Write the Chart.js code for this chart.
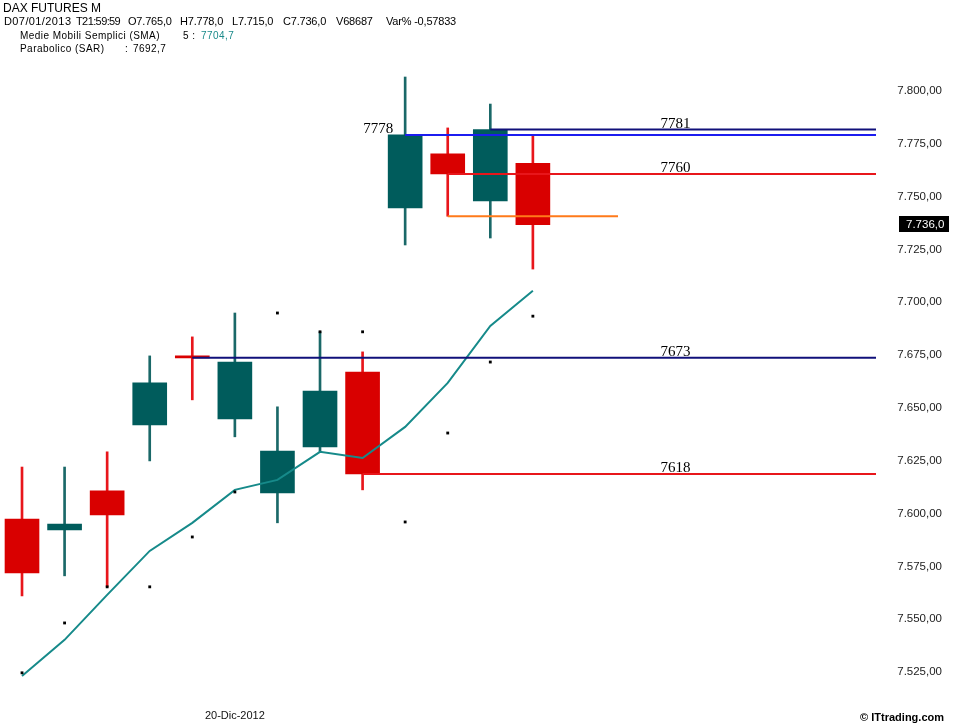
<!DOCTYPE html>
<html>
<head>
<meta charset="utf-8">
<script src="https://cdn.jsdelivr.net/npm/chart.js@4.4.1/dist/chart.umd.min.js"></script>
<style>
  html, body { margin: 0; padding: 0; background: #fff; }
  #wrap { position: relative; width: 953px; height: 725px; font-family: "Liberation Sans", Arial, sans-serif; color: #000; }
  canvas { position: absolute; left: 0; top: 0; }
  .t { position: absolute; white-space: pre; line-height: 1; }
  .l2 { font-size: 11px; top: 16px; letter-spacing: -0.2px; }
  .l3 { font-size: 10px; letter-spacing: 0.45px; }
</style>
</head>
<body>
<div id="wrap">
  <canvas id="chart" width="953" height="725"></canvas>
  <div class="t" style="left:3px;top:2px;font-size:12px">DAX FUTURES M</div>
  <div class="t l2" style="left:4px;letter-spacing:0.4px">D07/01/2013</div>
  <div class="t l2" style="left:76px;letter-spacing:-0.6px">T21:59:59</div>
  <div class="t l2" style="left:128px">O7.765,0</div>
  <div class="t l2" style="left:180px">H7.778,0</div>
  <div class="t l2" style="left:232px">L7.715,0</div>
  <div class="t l2" style="left:283px">C7.736,0</div>
  <div class="t l2" style="left:336px">V68687</div>
  <div class="t l2" style="left:386px">Var% -0,57833</div>
  <div class="t l3" style="left:20px;top:31px">Medie Mobili Semplici (SMA)</div>
  <div class="t l3" style="left:183px;top:31px">5 :</div>
  <div class="t l3" style="left:201px;top:31px;color:#1a8a8a">7704,7</div>
  <div class="t l3" style="left:20px;top:44px">Parabolico (SAR)</div>
  <div class="t l3" style="left:125px;top:44px">:</div>
  <div class="t l3" style="left:133px;top:44px">7692,7</div>
  <div class="t" style="right:9px;top:712px;font-size:11px;font-weight:bold">© ITtrading.com</div>
</div>
<script>
// candele giornaliere (indice 0..12)
const opens  = [7596.7, 7591.5, 7610.0, 7641.2, 7673.0, 7644.1, 7609.0, 7630.8, 7666.3, 7743.9, 7769.5, 7747.2, 7765.0];
const highs  = [7621.3, 7621.3, 7628.5, 7673.9, 7682.9, 7694.2, 7649.8, 7685.3, 7675.8, 7805.9, 7781.8, 7793.1, 7778.0];
const lows   = [7560.3, 7569.8, 7564.6, 7624.2, 7653.1, 7635.6, 7594.9, 7628.3, 7610.5, 7726.4, 7740.0, 7729.7, 7715.0];
const closes = [7571.2, 7594.3, 7598.6, 7661.1, 7673.0, 7671.0, 7628.9, 7657.3, 7618.0, 7778.5, 7760.0, 7781.0, 7736.0];

const sma = [7522.4, 7539.5, 7560.8, 7581.6, 7594.9, 7610.5, 7615.2, 7628.5, 7625.6, 7640.3, 7661.1, 7688.1, 7704.7];
const sar = [7523.9, 7547.5, 7564.6, 7564.6, 7588.2, 7609.5, 7694.2, 7685.3, 7685.3, 7595.3, 7637.4, 7671.0, 7692.7];

const dateLabels = { 5: "20-Dic-2012" };
const yTicks = [7525, 7550, 7575, 7600, 7625, 7650, 7675, 7700, 7725, 7750, 7775, 7800];

// livelli orizzontali
const levelValues = [7673, 7618, 7781, 7778.5, 7760, 7740];
const levelText   = ["7673", "7618", "7781", "7778", "7760", ""];
const levelFrom   = [4, 8, 11, 9, 10, 10];
const levelTo     = [20.06, 20.06, 20.06, 20.06, 20.06, 14];
const levelColors = ["#10107a", "#e8161b", "#10107a", "#1c1cf0", "#e8161b", "#ff7a1a"];

const RED = "#d90000", TEAL = "#005c5c";
const candleColor = opens.map((o, i) => closes[i] > o ? TEAL : RED);
const wickColor = opens.map((o, i) => closes[i] > o ? "#1a6868" : "#e8161b");

const fmt = (v, dec) => {
  const parts = v.toFixed(dec).split(".");
  const int = parts[0].replace(/\B(?=(\d{3})+(?!\d))/g, ".");
  return parts[1] ? int + "," + parts[1] : int;
};

const levelDatasets = levelValues.map((v, i) => ({
  type: "line",
  data: [{ x: levelFrom[i], y: v }, { x: levelTo[i], y: v }],
  borderColor: levelColors[i],
  borderWidth: 2,
  pointRadius: 0,
  order: 1,
}));

const labelsPlugin = {
  id: "labels",
  afterDatasetsDraw(chart) {
    const { ctx, scales: { x, y } } = chart;
    ctx.save();
    ctx.font = "15px 'Liberation Serif', 'Times New Roman', serif";
    ctx.fillStyle = "#000";
    ctx.textBaseline = "alphabetic";
    ctx.textAlign = "right";
    levelValues.forEach((v, i) => {
      if (!levelText[i]) return;
      const py = y.getPixelForValue(v) - 2;
      // 7778 sta a sinistra dell'inizio della linea
      const px = levelText[i] === "7778" ? x.getPixelForValue(levelFrom[i]) - 12 : x.getPixelForValue(15.7);
      ctx.fillText(levelText[i], px, py);
    });
    ctx.restore();
  },
  afterDraw(chart) {
    const { ctx, scales: { y } } = chart;
    const last = closes[closes.length - 1];
    const py = Math.round(y.getPixelForValue(last)) - 1;
    ctx.save();
    ctx.fillStyle = "#000";
    ctx.fillRect(899, py - 8, 50, 16);
    ctx.fillStyle = "#fff";
    ctx.font = "11.5px 'Liberation Sans', Arial, sans-serif";
    ctx.textAlign = "left";
    ctx.textBaseline = "middle";
    ctx.fillText(fmt(last, 1), 906, py + 0.5);
    ctx.restore();
  },
};

new Chart(document.getElementById("chart"), {
  type: "bar",
  data: {
    datasets: [
      ...levelDatasets,
      {
        type: "line",
        data: sma.map((v, i) => ({ x: i, y: v })),
        borderColor: "#168a8a",
        borderWidth: 2,
        pointRadius: 0,
        order: 2,
      },
      {
        type: "line",
        data: sar.map((v, i) => ({ x: i, y: v })),
        showLine: false,
        pointStyle: "rect",
        pointRadius: 2,
        pointBackgroundColor: "#000",
        pointBorderWidth: 0,
        order: 0,
      },
      {
        data: closes.map((c, i) => ({ x: i, y: [opens[i], c] })),
        backgroundColor: candleColor,
        barThickness: 34,
        minBarLength: 2,
        grouped: false,
        order: 3,
      },
      {
        data: highs.map((h, i) => ({ x: i, y: [lows[i], h] })),
        backgroundColor: wickColor,
        barThickness: 2,
        grouped: false,
        order: 4,
      },
    ],
  },
  options: {
    responsive: false,
    animation: false,
    layout: { autoPadding: false, padding: { top: 62, left: 0, right: 11, bottom: 0 } },
    plugins: { legend: { display: false }, tooltip: { enabled: false } },
    scales: {
      x: {
        type: "linear",
        min: -0.517,
        max: 20.06,
        offset: false,
        grid: { display: false },
        border: { display: false },
        afterFit: (s) => { s.height = 28; s.paddingLeft = 0; s.paddingRight = 0; },
        ticks: {
          stepSize: 1,
          autoSkip: false,
          maxRotation: 0,
          padding: 4,
          color: "#111",
          font: { family: "'Liberation Sans', Arial, sans-serif", size: 11 },
          callback: (v) => dateLabels[v] || "",
        },
      },
      y: {
        position: "right",
        min: 7512.46,
        max: 7813.0,
        grid: { display: false },
        border: { display: false },
        afterFit: (s) => { s.width = 66; },
        afterBuildTicks: (s) => { s.ticks = yTicks.map((v) => ({ value: v })); },
        ticks: {
          crossAlign: "far",
          labelOffset: 1.5,
          color: "#222",
          font: { family: "'Liberation Sans', Arial, sans-serif", size: 11.5 },
          callback: (v) => fmt(v, 2),
        },
      },
    },
  },
  plugins: [labelsPlugin],
});
</script>
</body>
</html>
